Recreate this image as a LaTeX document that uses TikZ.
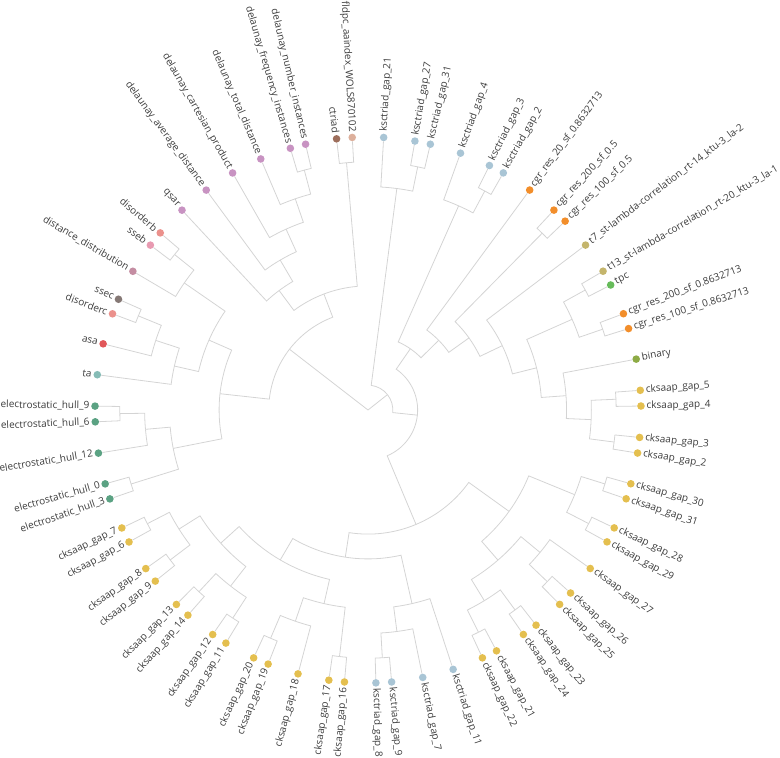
\documentclass[tikz,border=0pt]{standalone}
\usepackage{fontspec}
\setmainfont{Open Sans}
\usetikzlibrary{calc}

\definecolor{hullgreen}{HTML}{5BA283}
\definecolor{tateal}{HTML}{86BCB6}
\definecolor{asared}{HTML}{E15759}
\definecolor{disordsalmon}{HTML}{EB918C}
\definecolor{ssecgrey}{HTML}{857875}
\definecolor{distmauve}{HTML}{C48DA2}
\definecolor{ssebpink}{HTML}{E89AB1}
\definecolor{dellilac}{HTML}{C893C2}
\definecolor{ctriadbrown}{HTML}{9D6E5C}
\definecolor{fldpctan}{HTML}{DDB09C}
\definecolor{ksblue}{HTML}{A9C5D5}
\definecolor{cgrorange}{HTML}{F28E2B}
\definecolor{lambdakhaki}{HTML}{C4B56C}
\definecolor{tpcgreen}{HTML}{66BB5A}
\definecolor{binaryolive}{HTML}{8DAB45}
\definecolor{cksyellow}{HTML}{E4BF4F}
\definecolor{linkgrey}{HTML}{D4D4D4}
\definecolor{labgrey}{HTML}{3C3C3C}

% leaf: name, slot, colour, text
\newcommand\leaf[4]{%
  \pgfmathsetmacro\bang{199-#2*3.3027523}%
  \expandafter\xdef\csname dg@ang@#1\endcsname{\bang}%
  \node[dot, fill=#3] (#1) at (\bang:273pt) {};
  \pgfmathparse{abs(\bang)<90}%
  \ifdim\pgfmathresult pt>0.5pt
    \node[lab, anchor=west, rotate=\bang] at (\bang:278pt) {#4};
  \else
    \pgfmathsetmacro\bflip{\bang+180}%
    \node[lab, anchor=east, rotate=\bflip] at (\bang:278pt) {#4};
  \fi}
% elbow link: arc on the parent ring, then out to the child
\newcommand\twig[2]{%
  \draw[link] (#1) arc[start angle=\csname dg@ang@#1\endcsname,
    end angle=\csname dg@ang@#2\endcsname,
    radius=\csname dg@rad@#1\endcsname pt] -- (#2);}
% branch: name, height, child, child
\newcommand\branch[4]{%
  \pgfmathsetmacro\bang{(\csname dg@ang@#3\endcsname+\csname dg@ang@#4\endcsname)/2}%
  \pgfmathsetmacro\brad{273*(1-#2/11)}%
  \expandafter\xdef\csname dg@ang@#1\endcsname{\bang}%
  \expandafter\xdef\csname dg@rad@#1\endcsname{\brad}%
  \coordinate (#1) at (\bang:\brad pt);
  \twig{#1}{#3}\twig{#1}{#4}}

\begin{document}
\begin{tikzpicture}[
    link/.style={draw=linkgrey, line width=0.8pt},
    dot/.style={circle, draw=none, minimum size=7.6pt, inner sep=0pt},
    lab/.style={font=\fontsize{10}{12}\selectfont, text=labgrey, inner sep=0.5pt}
  ]
    \useasboundingbox (-368pt,-348pt) rectangle (412pt,410pt);
    \coordinate (root) at (0,0);

    % leaves
    \leaf{hull3}{0}{hullgreen}{electrostatic\_hull\_3}
    \leaf{hull0}{1}{hullgreen}{electrostatic\_hull\_0}
    \leaf{hull12}{3}{hullgreen}{electrostatic\_hull\_12}
    \leaf{hull6}{5}{hullgreen}{electrostatic\_hull\_6}
    \leaf{hull9}{6}{hullgreen}{electrostatic\_hull\_9}
    \leaf{ta}{8}{tateal}{ta}
    \leaf{asa}{10}{asared}{asa}
    \leaf{disorderc}{12}{disordsalmon}{disorderc}
    \leaf{ssec}{13}{ssecgrey}{ssec}
    \leaf{distdist}{15}{distmauve}{distance\_distribution}
    \leaf{sseb}{17}{ssebpink}{sseb}
    \leaf{disorderb}{18}{disordsalmon}{disorderb}
    \leaf{qsar}{20}{dellilac}{qsar}
    \leaf{dlavg}{22}{dellilac}{delaunay\_average\_distance}
    \leaf{dlcart}{24}{dellilac}{delaunay\_cartesian\_product}
    \leaf{dltotal}{26}{dellilac}{delaunay\_total\_distance}
    \leaf{dlfreq}{28}{dellilac}{delaunay\_frequency\_instances}
    \leaf{dlnum}{29}{dellilac}{delaunay\_number\_instances}
    \leaf{ctriad}{31}{ctriadbrown}{ctriad}
    \leaf{fldpc}{32}{fldpctan}{fldpc\_aaindex\_WOLS870102}
    \leaf{ks21}{34}{ksblue}{ksctriad\_gap\_21}
    \leaf{ks27}{36}{ksblue}{ksctriad\_gap\_27}
    \leaf{ks31}{37}{ksblue}{ksctriad\_gap\_31}
    \leaf{ks4}{39}{ksblue}{ksctriad\_gap\_4}
    \leaf{ks3}{41}{ksblue}{ksctriad\_gap\_3}
    \leaf{ks2}{42}{ksblue}{ksctriad\_gap\_2}
    \leaf{cgrA}{44}{cgrorange}{cgr\_res\_20\_sf\_0.8632713}
    \leaf{cgrB}{46}{cgrorange}{cgr\_res\_200\_sf\_0.5}
    \leaf{cgrC}{47}{cgrorange}{cgr\_res\_100\_sf\_0.5}
    \leaf{tseven}{49}{lambdakhaki}{t7\_st-lambda-correlation\_rt-14\_ktu-3\_la-2}
    \leaf{tthirteen}{51}{lambdakhaki}{t13\_st-lambda-correlation\_rt-20\_ktu-3\_la-1}
    \leaf{tpc}{52}{tpcgreen}{tpc}
    \leaf{cgrD}{54}{cgrorange}{cgr\_res\_200\_sf\_0.8632713}
    \leaf{cgrE}{55}{cgrorange}{cgr\_res\_100\_sf\_0.8632713}
    \leaf{binary}{57}{binaryolive}{binary}
    \leaf{cg5}{59}{cksyellow}{cksaap\_gap\_5}
    \leaf{cg4}{60}{cksyellow}{cksaap\_gap\_4}
    \leaf{cg3}{62}{cksyellow}{cksaap\_gap\_3}
    \leaf{cg2}{63}{cksyellow}{cksaap\_gap\_2}
    \leaf{cg30}{65}{cksyellow}{cksaap\_gap\_30}
    \leaf{cg31}{66}{cksyellow}{cksaap\_gap\_31}
    \leaf{cg28}{68}{cksyellow}{cksaap\_gap\_28}
    \leaf{cg29}{69}{cksyellow}{cksaap\_gap\_29}
    \leaf{cg27}{71}{cksyellow}{cksaap\_gap\_27}
    \leaf{cg26}{73}{cksyellow}{cksaap\_gap\_26}
    \leaf{cg25}{74}{cksyellow}{cksaap\_gap\_25}
    \leaf{cg23}{76}{cksyellow}{cksaap\_gap\_23}
    \leaf{cg24}{77}{cksyellow}{cksaap\_gap\_24}
    \leaf{cg21}{79}{cksyellow}{cksaap\_gap\_21}
    \leaf{cg22}{80}{cksyellow}{cksaap\_gap\_22}
    \leaf{ks11}{82}{ksblue}{ksctriad\_gap\_11}
    \leaf{ks7}{84}{ksblue}{ksctriad\_gap\_7}
    \leaf{ks9}{86}{ksblue}{ksctriad\_gap\_9}
    \leaf{ks8}{87}{ksblue}{ksctriad\_gap\_8}
    \leaf{cg16}{89}{cksyellow}{cksaap\_gap\_16}
    \leaf{cg17}{90}{cksyellow}{cksaap\_gap\_17}
    \leaf{cg18}{92}{cksyellow}{cksaap\_gap\_18}
    \leaf{cg19}{94}{cksyellow}{cksaap\_gap\_19}
    \leaf{cg20}{95}{cksyellow}{cksaap\_gap\_20}
    \leaf{cg11}{97}{cksyellow}{cksaap\_gap\_11}
    \leaf{cg12}{98}{cksyellow}{cksaap\_gap\_12}
    \leaf{cg14}{100}{cksyellow}{cksaap\_gap\_14}
    \leaf{cg13}{101}{cksyellow}{cksaap\_gap\_13}
    \leaf{cg9}{103}{cksyellow}{cksaap\_gap\_9}
    \leaf{cg8}{104}{cksyellow}{cksaap\_gap\_8}
    \leaf{cg6}{106}{cksyellow}{cksaap\_gap\_6}
    \leaf{cg7}{107}{cksyellow}{cksaap\_gap\_7}

    % left half
    \branch{nh03}{1}{hull0}{hull3}
    \branch{nh69}{1}{hull6}{hull9}
    \branch{ne1}{2}{hull12}{nh69}
    \branch{ne}{3}{ne1}{nh03}
    \branch{nsc}{1}{disorderc}{ssec}
    \branch{nasc}{2}{asa}{nsc}
    \branch{nt}{3}{ta}{nasc}
    \branch{nsb}{1}{sseb}{disorderb}
    \branch{ndd}{2}{distdist}{nsb}
    \branch{nx}{4}{nt}{ndd}
    \branch{ny}{5}{ne}{nx}
    \branch{nd1}{1}{dlfreq}{dlnum}
    \branch{nd2}{2}{dltotal}{nd1}
    \branch{nd3}{3}{dlcart}{nd2}
    \branch{nd4}{4}{dlavg}{nd3}
    \branch{nd5}{5}{qsar}{nd4}
    \branch{ncf}{1}{ctriad}{fldpc}
    \branch{nz}{6}{nd5}{ncf}
    \branch{nb}{7}{ny}{nz}

    % right half
    \branch{nk2731}{1}{ks27}{ks31}
    \branch{nk1}{2}{ks21}{nk2731}
    \branch{nk32}{1}{ks3}{ks2}
    \branch{nk2}{2}{ks4}{nk32}
    \branch{ncg05}{1}{cgrB}{cgrC}
    \branch{ntpc}{1}{tthirteen}{tpc}
    \branch{ncg86}{1}{cgrD}{cgrE}
    \branch{nq1}{2}{ntpc}{ncg86}
    \branch{nc54}{1}{cg5}{cg4}
    \branch{nc32}{1}{cg3}{cg2}
    \branch{ncc}{2}{nc54}{nc32}
    \branch{nr3}{3}{binary}{ncc}
    \branch{nr4}{4}{nq1}{nr3}
    \branch{nr5}{5}{tseven}{nr4}
    \branch{nr6}{6}{ncg05}{nr5}
    \branch{nr7}{7}{cgrA}{nr6}
    \branch{nr8}{8}{nk2}{nr7}

    % lower half
    \branch{nc3031}{1}{cg30}{cg31}
    \branch{nc2829}{1}{cg28}{cg29}
    \branch{np1}{2}{nc3031}{nc2829}
    \branch{nc2625}{1}{cg26}{cg25}
    \branch{nn2}{2}{cg27}{nc2625}
    \branch{nc2324}{1}{cg23}{cg24}
    \branch{nc2122}{1}{cg21}{cg22}
    \branch{nn2b}{2}{nc2324}{nc2122}
    \branch{nn3}{3}{nn2}{nn2b}
    \branch{nmr}{4}{np1}{nn3}
    \branch{nk98}{1}{ks9}{ks8}
    \branch{nk798}{2}{ks7}{nk98}
    \branch{nkk}{3}{ks11}{nk798}
    \branch{nc1617}{1}{cg16}{cg17}
    \branch{nc1920}{1}{cg19}{cg20}
    \branch{ng2c}{2}{cg18}{nc1920}
    \branch{ng3c}{3}{nc1617}{ng2c}
    \branch{nc1112}{1}{cg11}{cg12}
    \branch{nc1413}{1}{cg14}{cg13}
    \branch{ng2b}{2}{nc1112}{nc1413}
    \branch{nc98}{1}{cg9}{cg8}
    \branch{nc67}{1}{cg6}{cg7}
    \branch{ng2}{2}{nc98}{nc67}
    \branch{ng3}{3}{ng2b}{ng2}
    \branch{ng4}{4}{ng3c}{ng3}
    \branch{ng5}{5}{nkk}{ng4}
    \branch{nm}{6}{nmr}{ng5}

    \branch{nw}{9}{nr8}{nm}
    \branch{na}{10}{nk1}{nw}
    \draw[link] (root) -- (na);
    \draw[link] (root) -- (nb);
  \end{tikzpicture}
\end{document}
